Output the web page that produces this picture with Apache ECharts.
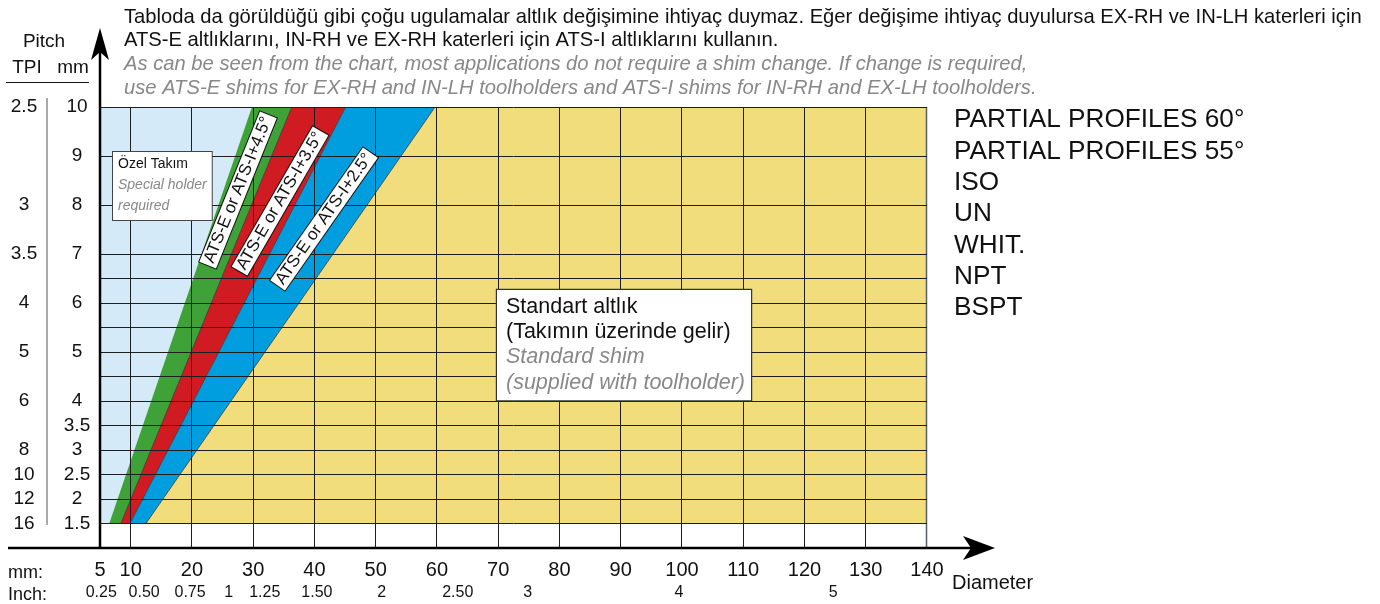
<!DOCTYPE html>
<html>
<head>
<meta charset="utf-8">
<script src="https://cdn.jsdelivr.net/npm/echarts@6.0.0/dist/echarts.min.js"></script>
<style>
html, body { margin: 0; padding: 0; background: #fff; }
#main { width: 1380px; height: 604px; }
</style>
</head>
<body>
<div id="main"></div>
<script>
// çap ekseni (mm)
var diaTicks = [5, 10, 20, 30, 40, 50, 60, 70, 80, 90, 100, 110, 120, 130, 140];
var diaGrid = [10, 20, 30, 40, 50, 60, 70, 80, 90, 100, 110, 120, 130, 140];
// inch etiketleri, resimdeki yerlerinde (mm cinsinden)
var inchLabels = ['0.25', '0.50', '0.75', '1', '1.25', '1.50', '2', '2.50', '3', '4', '5'];
var inchPos = [5.2, 12.2, 19.7, 26.0, 31.9, 40.4, 51.0, 63.4, 74.8, 99.5, 124.7];
// adım ekseni
var pitchMm = [1.5, 2, 2.5, 3, 3.5, 4, 5, 6, 7, 8, 9, 10];
var tpiLabels = ['16', '12', '10', '8', '6', '5', '4', '3.5', '3', '2.5'];
var tpiPos = [1.5, 2, 2.5, 3, 4, 5, 6, 7, 8, 10];
var pitchGrid = [1.5, 2, 2.5, 3, 3.5, 4, 4.5, 5, 5.5, 6, 6.5, 7, 8, 9, 10];
// bölge sınırları: 1.5 mm adımda ve 10 mm adımda çap
var edgeBottom = [6.5, 8.4, 9.9, 12.5];
var edgeTop = [29.8, 36.3, 45.1, 59.7];
var zoneColors = ['#d5eaf8', '#3fa239', '#cf1b21', '#009ddf', '#f2dd7c'];
var bandLabels = ['ATS-E or ATS-I+4.5°', 'ATS-E or ATS-I+3.5°', 'ATS-E or ATS-I+2.5°'];
var profiles = ['PARTIAL PROFILES 60°', 'PARTIAL PROFILES 55°', 'ISO', 'UN', 'WHIT.', 'NPT', 'BSPT'];

var font = 'Liberation Sans, Arial, sans-serif';
var gray = '#888';

function crisp(v) {
  return Math.round(v - 0.5) + 0.5;
}

var chart = echarts.init(document.getElementById('main'));

chart.setOption({
  backgroundColor: '#fff',
  animation: false,
  grid: { left: 100, right: 453, top: 107, bottom: 56, outerBoundsMode: 'none' },
  xAxis: [
    {
      type: 'value', min: 5, max: 140, position: 'bottom',
      axisLine: { show: false }, axisTick: { show: false }, splitLine: { show: false },
      axisLabel: { customValues: diaTicks, margin: 12, fontSize: 20, color: '#111', fontFamily: font }
    },
    {
      type: 'value', min: 5, max: 140, position: 'bottom',
      axisLine: { show: false }, axisTick: { show: false }, splitLine: { show: false },
      axisLabel: {
        customValues: inchPos, margin: 37, fontSize: 16, color: '#111', fontFamily: font,
        formatter: function (v) { return inchLabels[inchPos.indexOf(v)] || ''; }
      }
    }
  ],
  yAxis: [
    {
      type: 'value', min: 1, max: 10,
      axisLine: { show: false }, axisTick: { show: false }, splitLine: { show: false },
      axisLabel: { customValues: pitchMm, align: 'center', margin: 23, fontSize: 19, color: '#111', fontFamily: font }
    },
    {
      type: 'value', min: 1, max: 10, position: 'left',
      axisLine: { show: false }, axisTick: { show: false }, splitLine: { show: false },
      axisLabel: {
        customValues: tpiPos, align: 'center', margin: 76, fontSize: 19, color: '#111', fontFamily: font,
        formatter: function (v) { return tpiLabels[tpiPos.indexOf(v)] || ''; }
      }
    }
  ],
  series: [
    {
      // renkli bölgeler
      type: 'custom', z: 1, silent: true,
      data: zoneColors.map(function (c, i) { return [i]; }),
      renderItem: function (params, api) {
        var i = api.value(0);
        var last = zoneColors.length - 1;
        var lb = i === 0 ? 5 : edgeBottom[i - 1];
        var lt = i === 0 ? 5 : edgeTop[i - 1];
        var rb = i === last ? 140 : edgeBottom[i];
        var rt = i === last ? 140 : edgeTop[i];
        return {
          type: 'polygon',
          shape: { points: [api.coord([lb, 1.5]), api.coord([rb, 1.5]), api.coord([rt, 10]), api.coord([lt, 10])] },
          style: { fill: zoneColors[i] }
        };
      }
    },
    {
      // sınır çizgileri
      type: 'custom', z: 2, silent: true,
      data: [[1], [2], [3]],
      renderItem: function (params, api) {
        var k = api.value(0);
        var a = api.coord([edgeBottom[k], 1.5]);
        var b = api.coord([edgeTop[k], 10]);
        return {
          type: 'line',
          shape: { x1: a[0], y1: a[1], x2: b[0], y2: b[1] },
          style: { stroke: '#333', lineWidth: 0.8 }
        };
      }
    },
    {
      // dikey ızgara
      type: 'custom', z: 3, silent: true,
      data: diaGrid.map(function (v) { return [v]; }),
      renderItem: function (params, api) {
        var v = api.value(0);
        var a = api.coord([v, 1]);
        var b = api.coord([v, 10]);
        var x = crisp(a[0]);
        return {
          type: 'line',
          shape: { x1: x, y1: a[1], x2: x, y2: b[1] },
          style: { stroke: v === 140 ? '#55606a' : '#1e1e1e', lineWidth: v === 140 ? 1.5 : 1 }
        };
      }
    },
    {
      // yatay ızgara
      type: 'custom', z: 3, silent: true,
      data: pitchGrid.map(function (v) { return [v]; }),
      renderItem: function (params, api) {
        var v = api.value(0);
        var a = api.coord([5, v]);
        var b = api.coord([140, v]);
        var y = crisp(a[1]);
        return {
          type: 'line',
          shape: { x1: a[0], y1: y, x2: b[0], y2: y },
          style: { stroke: '#1e1e1e', lineWidth: 1 }
        };
      }
    }
  ]
});

var o = chart.convertToPixel({ gridIndex: 0 }, [5, 1]);
var ox = o[0], oy = o[1];

function txt(x, y, text, size, extra) {
  var st = { text: text, x: 0, y: 0, fill: '#111', fontSize: size, fontFamily: font, align: 'left', verticalAlign: 'middle' };
  for (var k in extra) st[k] = extra[k];
  return { type: 'text', x: x, y: y, z: 50, silent: true, style: st };
}

var graphics = [
  // eksenler
  { type: 'line', z: 50, silent: true, shape: { x1: 8, y1: oy, x2: 975, y2: oy }, style: { stroke: '#000', lineWidth: 2.5 } },
  { type: 'polygon', z: 50, silent: true, shape: { points: [[995, oy], [963, oy - 12], [971, oy], [963, oy + 12]] }, style: { fill: '#000' } },
  { type: 'line', z: 50, silent: true, shape: { x1: ox, y1: oy, x2: ox, y2: 50 }, style: { stroke: '#000', lineWidth: 2.5 } },
  { type: 'polygon', z: 50, silent: true, shape: { points: [[ox, 28], [ox - 9, 60], [ox, 52], [ox + 9, 60]] }, style: { fill: '#000' } },
  // TPI ayırıcı
  { type: 'line', z: 50, silent: true, shape: { x1: 47, y1: 98, x2: 47, y2: 525 }, style: { stroke: '#8c8c8c', lineWidth: 1.5 } },
  { type: 'line', z: 50, silent: true, shape: { x1: 6, y1: 82.5, x2: 89, y2: 82.5 }, style: { stroke: '#111', lineWidth: 1.2 } },
  txt(44, 42, 'Pitch', 19, { align: 'center' }),
  txt(27, 68, 'TPI', 19, { align: 'center' }),
  txt(73, 68, 'mm', 19, { align: 'center' }),
  txt(8, 573, 'mm:', 18),
  txt(8, 595, 'Inch:', 18),
  txt(952, 583, 'Diameter', 20),
  // üst açıklama
  txt(124, 17, 'Tabloda da görüldüğü gibi çoğu ugulamalar altlık değişimine ihtiyaç duymaz. Eğer değişime ihtiyaç duyulursa EX-RH ve IN-LH katerleri için', 20.2),
  txt(124, 40, 'ATS-E altlıklarını, IN-RH ve EX-RH katerleri için ATS-I altlıklarını kullanın.', 20.2),
  txt(124, 64, 'As can be seen from the chart, most applications do not require a shim change. If change is required,', 20.2, { fill: gray, fontStyle: 'italic' }),
  txt(124, 88, 'use ATS-E shims for EX-RH and IN-LH toolholders and ATS-I shims for IN-RH and EX-LH toolholders.', 20.2, { fill: gray, fontStyle: 'italic' }),
  // profil listesi
  txt(954, 104.5, profiles.join('\n'), 26.2, { verticalAlign: 'top', lineHeight: 31.3 }),
  // kutular
  txt(113, 152, '{a|Özel Takım}\n{b|Special holder}\n{b|required}', 14, {
    verticalAlign: 'top', backgroundColor: '#fff', borderColor: '#444', borderWidth: 1, padding: [2, 5, 3, 5],
    rich: {
      a: { fontSize: 14, fontFamily: font, fill: '#111', lineHeight: 21 },
      b: { fontSize: 14, fontFamily: font, fill: gray, fontStyle: 'italic', lineHeight: 21 }
    }
  }),
  txt(497, 290, '{a|Standart altlık}\n{a|(Takımın üzerinde gelir)}\n{b|Standard shim}\n{b|(supplied with toolholder)}', 21.5, {
    verticalAlign: 'top', backgroundColor: '#fff', borderColor: '#333', borderWidth: 1.2, padding: [4, 6, 5, 9],
    rich: {
      a: { fontSize: 21.5, fontFamily: font, fill: '#111', lineHeight: 25.3 },
      b: { fontSize: 21.5, fontFamily: font, fill: gray, fontStyle: 'italic', lineHeight: 25.3 }
    }
  })
];

// bant etiketleri
var labelPlace = [[238, 190, 68], [280, 201, 60], [324, 219, 55]];
bandLabels.forEach(function (t, i) {
  var p = labelPlace[i];
  var g = txt(p[0], p[1], t, 17, {
    align: 'center', backgroundColor: '#fff', borderColor: '#111', borderWidth: 1, padding: [1, 3, 0, 3]
  });
  g.rotation = p[2] * Math.PI / 180;
  graphics.push(g);
});

chart.setOption({ graphic: graphics });
</script>
</body>
</html>
